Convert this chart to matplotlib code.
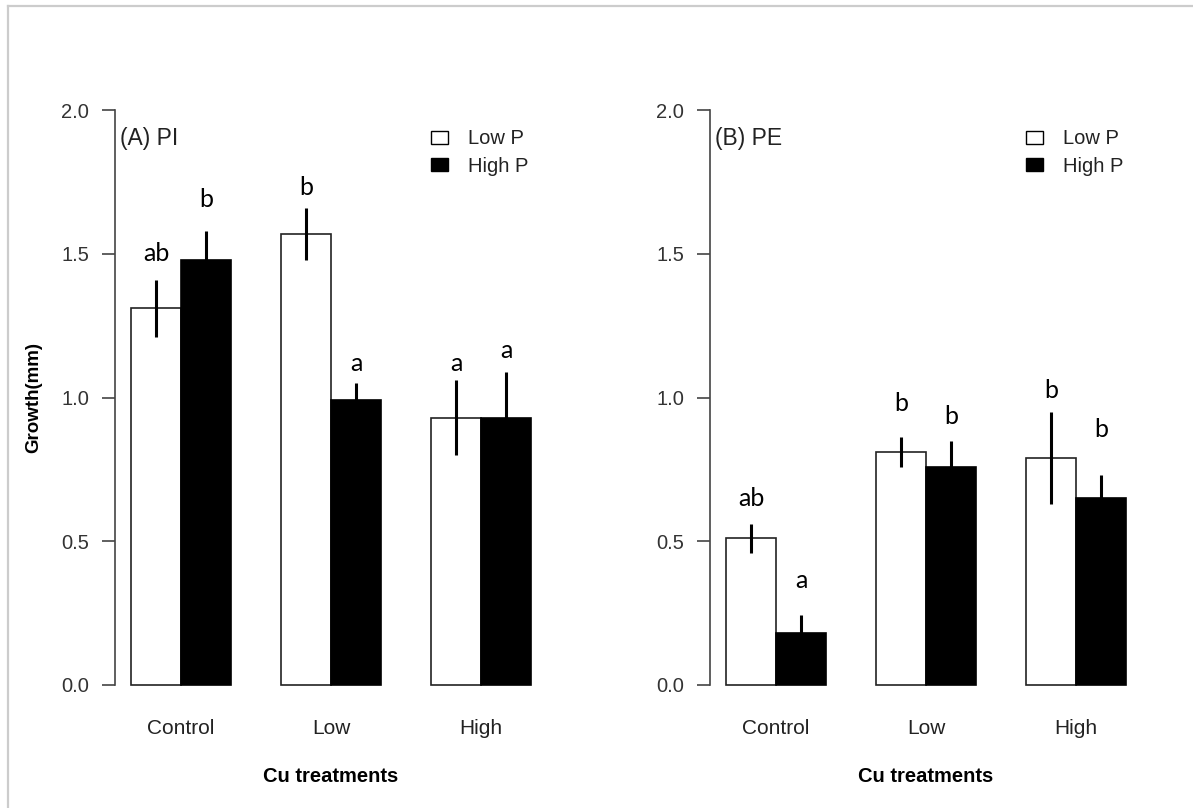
import numpy as np
import matplotlib
matplotlib.use('Agg')
import matplotlib.pyplot as plt
from matplotlib.patches import Patch
from matplotlib.lines import Line2D

# data
treatments = ['Control', 'Low', 'High']
series = ['Low P', 'High P']

pi_low = [1.31, 1.57, 0.93]
pi_high = [1.48, 0.99, 0.93]
pi_low_se = [0.10, 0.09, 0.13]
pi_high_se = [0.10, 0.06, 0.16]
pi_letters_low = ['ab', 'b', 'a']
pi_letters_high = ['b', 'a', 'a']
pi_letter_y_low = [1.50, 1.73, 1.12]
pi_letter_y_high = [1.69, 1.12, 1.165]

pe_low = [0.51, 0.81, 0.79]
pe_high = [0.18, 0.76, 0.65]
pe_low_se = [0.05, 0.053, 0.16]
pe_high_se = [0.064, 0.09, 0.08]
pe_letters_low = ['ab', 'b', 'b']
pe_letters_high = ['a', 'b', 'b']
pe_letter_y_low = [0.65, 0.98, 1.026]
pe_letter_y_high = [0.365, 0.933, 0.887]

plt.rcParams['font.family'] = ['Liberation Sans', 'DejaVu Sans']

fig = plt.figure(figsize=(11.93, 8.08), dpi=100)

# faint frame around the picture (top and left edges only)
fig.add_artist(Line2D([8 / 1193, 8 / 1193], [0, 1 - 6 / 808], transform=fig.transFigure,
                      color='#cccccc', lw=1.6))
fig.add_artist(Line2D([8 / 1193, 1], [1 - 6 / 808, 1 - 6 / 808], transform=fig.transFigure,
                      color='#cccccc', lw=1.6))

ax_h = 621 / 808
ax_b = 100 / 808
ax_w = 432 / 1193
ax1 = fig.add_axes([115 / 1193, ax_b, ax_w, ax_h])
ax2 = fig.add_axes([710 / 1193, ax_b, ax_w, ax_h])


def panel(ax, low, high, low_se, high_se, lt_low, lt_high, ly_low, ly_high, title):
    # R style barplot positions: bar width 1, one unit gap between groups
    x_low = np.array([1.5, 4.5, 7.5])
    x_high = x_low + 1
    centers = x_low + 0.5
    ax.bar(x_low, low, width=1, color='white', edgecolor='#222222', linewidth=1.2, zorder=2)
    ax.bar(x_high, high, width=1, color='black', edgecolor='black', linewidth=1.2, zorder=2)
    ax.errorbar(x_low, low, yerr=low_se, fmt='none', ecolor='black', elinewidth=2.2, capsize=0, zorder=3)
    ax.errorbar(x_high, high, yerr=high_se, fmt='none', ecolor='black', elinewidth=2.2, capsize=0, zorder=3)

    for x, y, t in zip(x_low, ly_low, lt_low):
        ax.text(x, y, t, ha='center', va='center', fontsize=18, family='Lato')
    for x, y, t in zip(x_high, ly_high, lt_high):
        ax.text(x, y, t, ha='center', va='center', fontsize=18, family='Lato')

    ax.set_xlim(0.68, 9.32)
    ax.set_ylim(-0.08, 2.08)
    for s in ['top', 'right', 'bottom']:
        ax.spines[s].set_visible(False)
    ax.spines['left'].set_bounds(0, 2)
    ax.spines['left'].set_color('#444444')
    ax.spines['left'].set_linewidth(1.2)
    ax.set_yticks([0, 0.5, 1.0, 1.5, 2.0])
    ax.set_yticklabels(['0.0', '0.5', '1.0', '1.5', '2.0'])
    ax.tick_params(axis='y', length=9.5, width=1.2, color='#444444', labelsize=14.5,
                   labelcolor='#333333', pad=9)
    ax.set_xticks(centers)
    ax.set_xticklabels(treatments)
    ax.tick_params(axis='x', length=0, labelsize=15, labelcolor='#222222', pad=8)
    ax.set_xlabel('Cu treatments', fontsize=14.5, fontweight='bold', labelpad=21)

    ax.text(0.78, 1.90, title, ha='left', va='center', fontsize=16.5, color='#222222')

    handles = [Patch(facecolor='white', edgecolor='black', linewidth=1),
               Patch(facecolor='black', edgecolor='black', linewidth=1)]
    ax.legend(handles, series, loc='upper left', bbox_to_anchor=(0.731, 0.932), frameon=False,
              fontsize=14.5, handlelength=0.85, handleheight=0.6, handletextpad=1.0,
              labelspacing=0.42, borderpad=0, borderaxespad=0, labelcolor='#222222')


panel(ax1, pi_low, pi_high, pi_low_se, pi_high_se, pi_letters_low, pi_letters_high,
      pi_letter_y_low, pi_letter_y_high, '(A) PI')
panel(ax2, pe_low, pe_high, pe_low_se, pe_high_se, pe_letters_low, pe_letters_high,
      pe_letter_y_low, pe_letter_y_high, '(B) PE')

ax1.set_ylabel('Growth(mm)', fontsize=13.5, fontweight='bold', labelpad=14)

fig.savefig('out.png', dpi=100)
